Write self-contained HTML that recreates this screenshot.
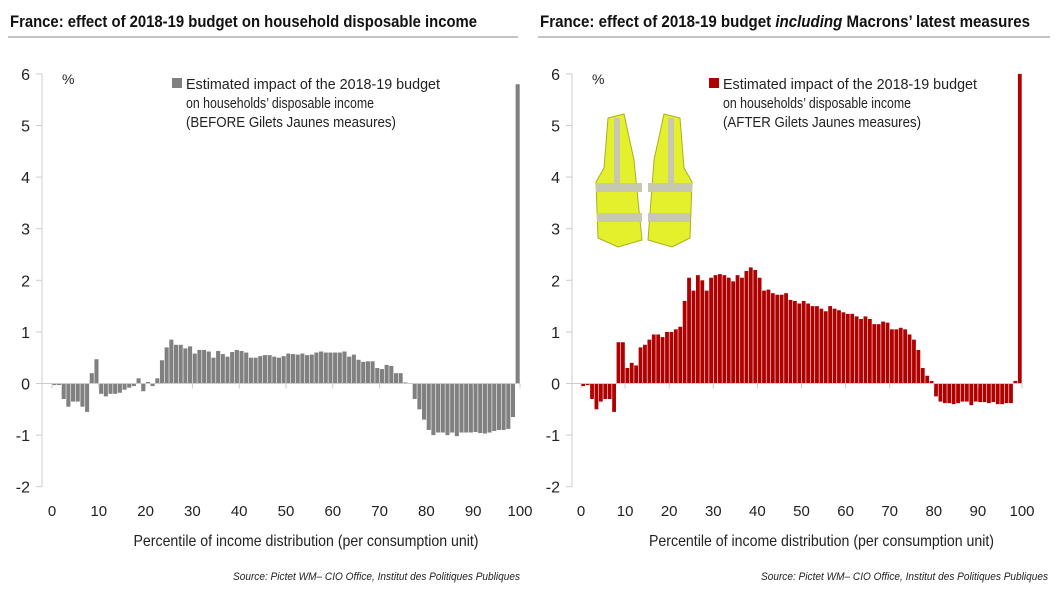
<!DOCTYPE html>
<html><head><meta charset="utf-8"><style>
body{margin:0;background:#fff;}
svg{display:block;font-family:"Liberation Sans Narrow","Liberation Sans",sans-serif;}
</style></head><body>
<svg id="c" width="1064" height="599" viewBox="0 0 1064 599">
<g>
<text x="10" y="27" font-size="17" font-weight="bold" fill="#111" textLength="467" lengthAdjust="spacingAndGlyphs">France:  effect of 2018-19 budget on household disposable income</text>
<line x1="8" y1="37" x2="518" y2="37" stroke="#888"/>
</g>
<g>
<text x="540" y="27" font-size="17" font-weight="bold" fill="#111" textLength="490" lengthAdjust="spacingAndGlyphs">France:  effect of 2018-19 budget <tspan font-style="italic">including</tspan> Macrons’ latest measures</text>
<line x1="538" y1="37" x2="1050" y2="37" stroke="#888"/>
</g>
<g>
<path d="M608 118 L624 114 L634 160 L642 240 L618 247 L598 238 L596 182 L604 168 Z" fill="#e4f02c" stroke="#a8b020"/>
<path d="M680 118 L664 114 L654 160 L648 240 L672 247 L690 238 L692 182 L684 168 Z" fill="#e4f02c" stroke="#a8b020"/>
<rect x="596" y="183" width="46" height="9" fill="#c8c8b0"/>
<rect x="648" y="183" width="44" height="9" fill="#c8c8b0"/>
<rect x="597" y="213" width="45" height="9" fill="#c8c8b0"/>
<rect x="648" y="213" width="42" height="9" fill="#c8c8b0"/>
<rect x="614" y="118" width="6" height="66" fill="#c8c8b0"/>
<rect x="668" y="118" width="6" height="66" fill="#c8c8b0"/>
</g>
</svg>
<script>
const categories = Array.from({length:100},(_,i)=>i+1);
const beforeValues = [-0.03,-0.03,-0.3,-0.45,-0.35,-0.35,-0.45,-0.55,0.2,0.47,-0.2,-0.25,-0.2,-0.2,-0.18,-0.12,-0.08,-0.05,0.1,-0.15,0.03,-0.05,0.1,0.45,0.7,0.85,0.75,0.75,0.68,0.72,0.58,0.65,0.65,0.62,0.5,0.63,0.57,0.52,0.61,0.65,0.63,0.6,0.5,0.5,0.53,0.55,0.55,0.52,0.5,0.53,0.58,0.57,0.56,0.58,0.55,0.56,0.6,0.62,0.6,0.6,0.6,0.6,0.62,0.52,0.56,0.46,0.42,0.43,0.43,0.3,0.28,0.36,0.34,0.2,0.2,0.02,0,-0.3,-0.5,-0.7,-0.9,-1.0,-0.95,-0.95,-1.0,-0.95,-1.02,-0.95,-0.95,-0.95,-0.94,-0.96,-0.97,-0.95,-0.92,-0.9,-0.9,-0.88,-0.65,5.8];
const afterValues = [-0.05,-0.03,-0.3,-0.5,-0.35,-0.3,-0.3,-0.55,0.8,0.8,0.3,0.4,0.35,0.7,0.75,0.85,0.95,0.95,0.9,1.0,1.0,1.05,1.1,1.6,2.05,1.8,2.1,2.0,1.8,2.05,2.1,2.12,2.1,2.05,1.98,2.1,2.05,2.18,2.25,2.2,2.05,1.8,1.82,1.75,1.72,1.72,1.75,1.62,1.6,1.55,1.6,1.55,1.5,1.5,1.45,1.4,1.5,1.45,1.42,1.38,1.35,1.35,1.3,1.25,1.3,1.25,1.15,1.15,1.2,1.18,1.05,1.05,1.08,1.05,0.95,0.85,0.65,0.3,0.15,0.05,-0.25,-0.35,-0.38,-0.38,-0.4,-0.38,-0.35,-0.35,-0.42,-0.35,-0.36,-0.36,-0.38,-0.36,-0.4,-0.4,-0.38,-0.38,0.05,6.0];
const yTicks = [-2,-1,0,1,2,3,4,5,6];
const xTicks = [0,10,20,30,40,50,60,70,80,90,100];

const NS="http://www.w3.org/2000/svg";
const svg=document.getElementById('c');
function mk(tag,attrs,parent,text){const e=document.createElementNS(NS,tag);for(const k in attrs)e.setAttribute(k,attrs[k]);if(text!==undefined)e.textContent=text;(parent||svg).appendChild(e);return e;}

function drawPanel(pfx,values,color,x0,x100,axisX,legendX,legendLines,legendLens,sourceX){
  const g=mk('g',{});
  
  
  const y=v=>383.5-v*51.6;
  const x=p=>x0+(x100-x0)*p/100;
  const ax=mk('line',{x1:axisX,y1:y(6),x2:axisX,y2:y(-2),stroke:'#ccc'},g);
  
  
  yTicks.forEach(t=>{
    const tk=mk('line',{x1:axisX-6,y1:y(t),x2:axisX,y2:y(t),stroke:'#ccc'},g);
    
    
    const lb=mk('text',{x:axisX-12,y:y(t)+6,'font-size':16,'text-anchor':'end',fill:'#222'},g,String(t));
    
    
  });
  const pc=mk('text',{x:axisX+20,y:y(6)+10,'font-size':14,fill:'#222'},g,'%');
  
  
  const bw=(x100-x0)/100;
  categories.forEach((c,i)=>{
    const v=values[i];
    const r=mk('rect',{x:x(c-1)+0.3,y:Math.min(y(v),y(0)),width:bw-0.6,height:Math.abs(y(v)-y(0)),fill:color},g);
    
    
  });
  const zl=mk('line',{x1:axisX,y1:y(0),x2:x100,y2:y(0),stroke:'#ccc'},g);
  
  
  xTicks.forEach(t=>{
    const tk=mk('line',{x1:x(t),y1:y(0),x2:x(t),y2:y(0)+5,stroke:'#ccc'},g);
    
    
    const lb=mk('text',{x:x(t),y:516,'font-size':15,'text-anchor':'middle',fill:'#222'},g,String(t));
    
    
  });
  const xt=mk('text',{x:x(50)+20,y:546,'font-size':16,'text-anchor':'middle',fill:'#222',textLength:345,lengthAdjust:'spacingAndGlyphs'},g,'Percentile of income distribution (per consumption unit)');
  
  
  const sw=mk('rect',{x:legendX,y:78,width:10,height:10,fill:color},g);
  
  
  legendLines.forEach((l,i)=>{
    const t=mk('text',{x:legendX+14,y:89+i*19,'font-size':15,fill:'#222',textLength:legendLens[i],lengthAdjust:'spacingAndGlyphs'},g,l);
    
    
  });
  const s=mk('text',{x:sourceX,y:580,'font-size':11,'font-style':'italic','text-anchor':'end',fill:'#222',textLength:287,lengthAdjust:'spacingAndGlyphs'},g,'Source: Pictet WM\u2013 CIO Office, Institut des Politiques Publiques');
  
  
}
drawPanel('left',beforeValues,'#808080',52,520,42,172,['Estimated impact of the 2018-19 budget','on households\u2019 disposable income','(BEFORE Gilets Jaunes measures)'],[254,188,210],520);
drawPanel('right',afterValues,'#b00000',581,1022,572,709,['Estimated impact of the 2018-19 budget','on households\u2019 disposable income','(AFTER Gilets Jaunes measures)'],[254,188,198],1048);
</script>
</body></html>
